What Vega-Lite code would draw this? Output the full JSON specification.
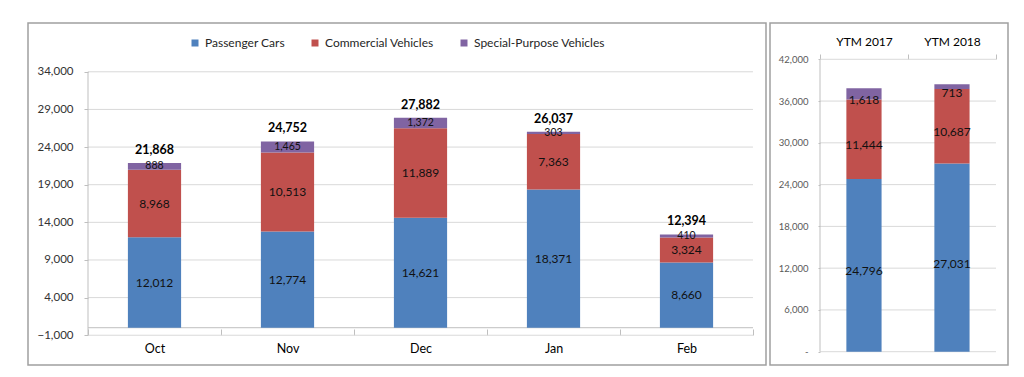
{
  "$schema": "https://vega.github.io/schema/vega-lite/v6.json",
  "padding": {"left": 27, "top": 22, "right": 0, "bottom": 0},
  "background": "white",
  "config": {
    "view": {"stroke": "#a0a0a0", "strokeWidth": 1.5},
    "font": "Lato",
    "text": {"font": "Lato"}
  },
  "datasets": {
    "monthly": [
      {"month": "Oct", "type": "Passenger Cars", "v": 12012, "k": 1},
      {"month": "Oct", "type": "Commercial Vehicles", "v": 8968, "k": 2},
      {"month": "Oct", "type": "Special-Purpose Vehicles", "v": 888, "k": 3},
      {"month": "Nov", "type": "Passenger Cars", "v": 12774, "k": 1},
      {"month": "Nov", "type": "Commercial Vehicles", "v": 10513, "k": 2},
      {"month": "Nov", "type": "Special-Purpose Vehicles", "v": 1465, "k": 3},
      {"month": "Dec", "type": "Passenger Cars", "v": 14621, "k": 1},
      {"month": "Dec", "type": "Commercial Vehicles", "v": 11889, "k": 2},
      {"month": "Dec", "type": "Special-Purpose Vehicles", "v": 1372, "k": 3},
      {"month": "Jan", "type": "Passenger Cars", "v": 18371, "k": 1},
      {"month": "Jan", "type": "Commercial Vehicles", "v": 7363, "k": 2},
      {"month": "Jan", "type": "Special-Purpose Vehicles", "v": 303, "k": 3},
      {"month": "Feb", "type": "Passenger Cars", "v": 8660, "k": 1},
      {"month": "Feb", "type": "Commercial Vehicles", "v": 3324, "k": 2},
      {"month": "Feb", "type": "Special-Purpose Vehicles", "v": 410, "k": 3}
    ],
    "totals": [
      {"month": "Oct", "total": 21868},
      {"month": "Nov", "total": 24752},
      {"month": "Dec", "total": 27882},
      {"month": "Jan", "total": 26037},
      {"month": "Feb", "total": 12394}
    ],
    "ytm": [
      {"period": "YTM 2017", "type": "Passenger Cars", "v": 24796, "k": 1},
      {"period": "YTM 2017", "type": "Commercial Vehicles", "v": 11444, "k": 2},
      {"period": "YTM 2017", "type": "Special-Purpose Vehicles", "v": 1618, "k": 3},
      {"period": "YTM 2018", "type": "Passenger Cars", "v": 27031, "k": 1},
      {"period": "YTM 2018", "type": "Commercial Vehicles", "v": 10687, "k": 2},
      {"period": "YTM 2018", "type": "Special-Purpose Vehicles", "v": 713, "k": 3}
    ],
    "gridLeft": [
      {"g": -1000}, {"g": 4000}, {"g": 9000}, {"g": 14000}, {"g": 19000}, {"g": 24000}, {"g": 29000}, {"g": 34000}
    ],
    "gridRight": [
      {"g": 0}, {"g": 6000}, {"g": 12000}, {"g": 18000}, {"g": 24000}, {"g": 30000}, {"g": 36000}, {"g": 42000}
    ]
  },
  "spacing": 2,
  "hconcat": [
    {
      "width": 738,
      "height": 342,
      "layer": [
        {
          "layer": [
            {
              "data": {"name": "gridLeft"},
              "mark": {"type": "rule", "color": "#d9d9d9", "strokeWidth": 1},
              "encoding": {
                "x": {"datum": 0, "type": "quantitative", "scale": {"domain": [-0.09023, 1.01955], "nice": false, "zero": false}, "axis": null},
                "x2": {"datum": 1},
                "y": {"field": "g", "type": "quantitative", "scale": {"domain": [-4953, 40482], "nice": false, "zero": false},
                  "axis": {"orient": "left", "offset": -60, "values": [-1000, 4000, 9000, 14000, 19000, 24000, 29000, 34000], "labelExpr": "format(datum.value, ',')", "title": null, "domain": false, "grid": false, "tickSize": 4, "tickColor": "#bfbfbf", "labelFontSize": 11.5, "labelColor": "#333333", "labelPadding": 11}}
              }
            },
            {
              "data": {"values": [{"a": 1}]},
              "mark": {"type": "rule", "color": "#bfbfbf", "strokeWidth": 1},
              "encoding": {
                "x": {"datum": 0, "type": "quantitative", "scale": {"domain": [-0.09023, 1.01955], "nice": false, "zero": false}, "axis": null},
                "y": {"datum": -1000, "type": "quantitative", "scale": {"domain": [-4953, 40482], "nice": false, "zero": false},
                  "axis": {"orient": "left", "offset": -60, "values": [-1000, 4000, 9000, 14000, 19000, 24000, 29000, 34000], "labelExpr": "format(datum.value, ',')", "title": null, "domain": false, "grid": false, "tickSize": 4, "tickColor": "#bfbfbf", "labelFontSize": 11.5, "labelColor": "#333333", "labelPadding": 11}},
                "y2": {"datum": 34000}
              }
            },
            {
              "data": {"values": [{"a": 1}]},
              "mark": {"type": "rule", "color": "#bfbfbf", "strokeWidth": 1},
              "encoding": {
                "x": {"datum": 0, "type": "quantitative", "scale": {"domain": [-0.09023, 1.01955], "nice": false, "zero": false}, "axis": null},
                "x2": {"datum": 1},
                "y": {"datum": 0, "type": "quantitative", "scale": {"domain": [-4953, 40482], "nice": false, "zero": false},
                  "axis": {"orient": "left", "offset": -60, "values": [-1000, 4000, 9000, 14000, 19000, 24000, 29000, 34000], "labelExpr": "format(datum.value, ',')", "title": null, "domain": false, "grid": false, "tickSize": 4, "tickColor": "#bfbfbf", "labelFontSize": 11.5, "labelColor": "#333333", "labelPadding": 11}}
              }
            }
          ]
        },
        {
          "data": {"name": "monthly"},
          "layer": [
            {
              "mark": {"type": "bar", "width": {"band": 0.4}},
              "encoding": {
                "x": {
                  "field": "month", "type": "nominal", "sort": ["Oct", "Nov", "Dec", "Jan", "Feb"],
                  "scale": {"paddingInner": 0, "paddingOuter": 0.2744, "align": 0.822},
                  "axis": {"orient": "bottom", "offset": -36, "title": null, "domain": false, "grid": false, "tickBand": "extent", "tickSize": 6, "tickColor": "#bfbfbf", "labelAngle": 0, "labelFontSize": 12.5, "labelColor": "#000000", "labelPadding": 7}
                },
                "y": {
                  "field": "v", "type": "quantitative", "stack": "zero",
                  "scale": {"domain": [-4953, 40482], "nice": false, "zero": false},
                  "axis": {"orient": "left", "offset": -60, "values": [-1000, 4000, 9000, 14000, 19000, 24000, 29000, 34000], "labelExpr": "format(datum.value, ',')", "title": null, "domain": false, "grid": false, "tickSize": 4, "tickColor": "#bfbfbf", "labelFontSize": 11.5, "labelColor": "#333333", "labelPadding": 11}
                },
                "color": {
                  "field": "type", "type": "nominal",
                  "scale": {"domain": ["Passenger Cars", "Commercial Vehicles", "Special-Purpose Vehicles"], "range": ["#4F81BD", "#C0504D", "#8064A2"]},
                  "legend": {"orient": "none", "legendX": 161, "legendY": 14, "direction": "horizontal", "title": null, "symbolType": "square", "symbolSize": 49, "symbolStrokeWidth": 0, "labelFontSize": 12, "labelColor": "#262626", "columnPadding": 24, "labelOffset": 4, "padding": 0}
                },
                "order": {"field": "k", "type": "quantitative"}
              }
            },
            {
              "mark": {"type": "text", "baseline": "middle", "color": "#111111"},
              "encoding": {
                "x": {"field": "month", "type": "nominal", "sort": ["Oct", "Nov", "Dec", "Jan", "Feb"],
                  "axis": {"orient": "bottom", "offset": -36, "title": null, "domain": false, "grid": false, "tickBand": "extent", "tickSize": 6, "tickColor": "#bfbfbf", "labelAngle": 0, "labelFontSize": 12.5, "labelColor": "#000000", "labelPadding": 7}},
                "y": {"field": "v", "type": "quantitative", "stack": "zero", "bandPosition": 0.5,
                  "axis": {"orient": "left", "offset": -60, "values": [-1000, 4000, 9000, 14000, 19000, 24000, 29000, 34000], "labelExpr": "format(datum.value, ',')", "title": null, "domain": false, "grid": false, "tickSize": 4, "tickColor": "#bfbfbf", "labelFontSize": 11.5, "labelColor": "#333333", "labelPadding": 11}},
                "detail": {"field": "type"},
                "order": {"field": "k", "type": "quantitative"},
                "text": {"field": "v", "type": "quantitative", "format": ","},
                "size": {"condition": {"test": "datum.type === 'Special-Purpose Vehicles'", "value": 10.5}, "value": 12}
              }
            },
            {
              "data": {"name": "totals"},
              "mark": {"type": "text", "baseline": "alphabetic", "dy": -9, "fontWeight": "bold", "fontSize": 12.5, "color": "#000000"},
              "encoding": {
                "x": {"field": "month", "type": "nominal", "sort": ["Oct", "Nov", "Dec", "Jan", "Feb"],
                  "axis": {"orient": "bottom", "offset": -36, "title": null, "domain": false, "grid": false, "tickBand": "extent", "tickSize": 6, "tickColor": "#bfbfbf", "labelAngle": 0, "labelFontSize": 12.5, "labelColor": "#000000", "labelPadding": 7}},
                "y": {"field": "total", "type": "quantitative",
                  "axis": {"orient": "left", "offset": -60, "values": [-1000, 4000, 9000, 14000, 19000, 24000, 29000, 34000], "labelExpr": "format(datum.value, ',')", "title": null, "domain": false, "grid": false, "tickSize": 4, "tickColor": "#bfbfbf", "labelFontSize": 11.5, "labelColor": "#333333", "labelPadding": 11}},
                "text": {"field": "total", "type": "quantitative", "format": ","}
              }
            }
          ]
        }
      ],
      "resolve": {"scale": {"x": "independent"}}
    },
    {
      "width": 238,
      "height": 342,
      "layer": [
        {
          "layer": [
            {
              "data": {"name": "gridRight"},
              "mark": {"type": "rule", "color": "#d9d9d9", "strokeWidth": 1},
              "encoding": {
                "x": {"datum": 0, "type": "quantitative", "scale": {"domain": [-0.2841, 1.0682], "nice": false, "zero": false}, "axis": null},
                "x2": {"datum": 1},
                "y": {"field": "g", "type": "quantitative", "scale": {"domain": [-1910, 47213], "nice": false, "zero": false},
                  "axis": {"orient": "left", "offset": -50, "values": [0, 6000, 12000, 18000, 24000, 30000, 36000, 42000], "labelExpr": "datum.value === 0 ? '-' : format(datum.value, ',')", "title": null, "domain": false, "grid": false, "tickSize": 2, "tickColor": "#bfbfbf", "labelFontSize": 9.5, "labelColor": "#595959", "labelPadding": 10}}
              }
            },
            {
              "data": {"values": [{"a": 1}]},
              "mark": {"type": "rule", "color": "#bfbfbf", "strokeWidth": 1},
              "encoding": {
                "x": {"datum": 0, "type": "quantitative", "scale": {"domain": [-0.2841, 1.0682], "nice": false, "zero": false}, "axis": null},
                "y": {"datum": 0, "type": "quantitative", "scale": {"domain": [-1910, 47213], "nice": false, "zero": false},
                  "axis": {"orient": "left", "offset": -50, "values": [0, 6000, 12000, 18000, 24000, 30000, 36000, 42000], "labelExpr": "datum.value === 0 ? '-' : format(datum.value, ',')", "title": null, "domain": false, "grid": false, "tickSize": 2, "tickColor": "#bfbfbf", "labelFontSize": 9.5, "labelColor": "#595959", "labelPadding": 10}},
                "y2": {"datum": 42000}
              }
            }
          ]
        },
        {
          "data": {"name": "ytm"},
          "layer": [
            {
              "mark": {"type": "bar", "width": {"band": 0.4}},
              "encoding": {
                "x": {
                  "field": "period", "type": "nominal", "sort": ["YTM 2017", "YTM 2018"],
                  "scale": {"paddingInner": 0, "paddingOuter": 0.3523, "align": 0.806},
                  "axis": {"orient": "top", "offset": -36, "title": null, "domain": false, "grid": false, "tickBand": "extent", "tickSize": 5, "tickColor": "#bfbfbf", "labelAngle": 0, "labelFontSize": 12, "labelColor": "#000000", "labelPadding": 6}
                },
                "y": {
                  "field": "v", "type": "quantitative", "stack": "zero",
                  "scale": {"domain": [-1910, 47213], "nice": false, "zero": false},
                  "axis": {"orient": "left", "offset": -50, "values": [0, 6000, 12000, 18000, 24000, 30000, 36000, 42000], "labelExpr": "datum.value === 0 ? '-' : format(datum.value, ',')", "title": null, "domain": false, "grid": false, "tickSize": 2, "tickColor": "#bfbfbf", "labelFontSize": 9.5, "labelColor": "#595959", "labelPadding": 10}
                },
                "color": {
                  "field": "type", "type": "nominal",
                  "scale": {"domain": ["Passenger Cars", "Commercial Vehicles", "Special-Purpose Vehicles"], "range": ["#4F81BD", "#C0504D", "#8064A2"]},
                  "legend": null
                },
                "order": {"field": "k", "type": "quantitative"}
              }
            },
            {
              "mark": {"type": "text", "baseline": "middle", "dy": 6, "fontSize": 12, "color": "#111111"},
              "encoding": {
                "x": {"field": "period", "type": "nominal", "sort": ["YTM 2017", "YTM 2018"],
                  "axis": {"orient": "top", "offset": -36, "title": null, "domain": false, "grid": false, "tickBand": "extent", "tickSize": 5, "tickColor": "#bfbfbf", "labelAngle": 0, "labelFontSize": 12, "labelColor": "#000000", "labelPadding": 6}},
                "y": {"field": "v", "type": "quantitative", "stack": "zero", "bandPosition": 0.5,
                  "axis": {"orient": "left", "offset": -50, "values": [0, 6000, 12000, 18000, 24000, 30000, 36000, 42000], "labelExpr": "datum.value === 0 ? '-' : format(datum.value, ',')", "title": null, "domain": false, "grid": false, "tickSize": 2, "tickColor": "#bfbfbf", "labelFontSize": 9.5, "labelColor": "#595959", "labelPadding": 10}},
                "detail": {"field": "type"},
                "order": {"field": "k", "type": "quantitative"},
                "text": {"field": "v", "type": "quantitative", "format": ","}
              }
            }
          ]
        }
      ],
      "resolve": {"scale": {"x": "independent"}}
    }
  ]
}
